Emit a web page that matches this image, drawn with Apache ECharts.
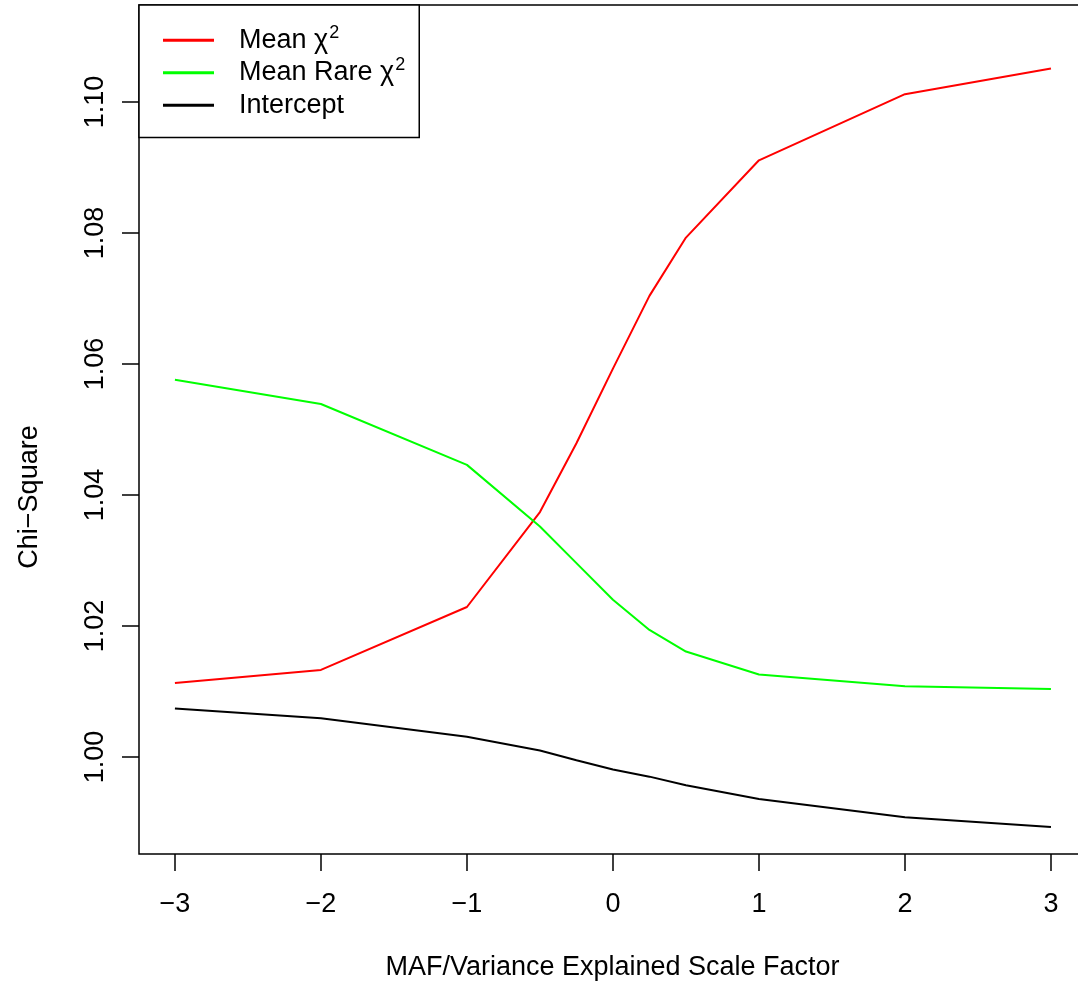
<!DOCTYPE html>
<html>
<head>
<meta charset="utf-8">
<script src="https://cdn.jsdelivr.net/npm/echarts@6/dist/echarts.min.js"></script>
<style>
html,body{margin:0;padding:0;background:#fff;overflow:hidden;}
#chart{width:1078px;height:986px;}
</style>
</head>
<body>
<div id="chart"></div>
<script>
const xValues = [-3, -2, -1, -0.5, -0.25, 0, 0.25, 0.5, 1, 2, 3];
const meanChi = [1.0113, 1.0133, 1.0229, 1.0374, 1.0479, 1.0593, 1.0704, 1.0793, 1.0911, 1.1012, 1.1051];
const meanRareChi = [1.0576, 1.0539, 1.0446, 1.0352, 1.0296, 1.0240, 1.0194, 1.0161, 1.0126, 1.0108, 1.0104];
const intercept = [1.0074, 1.0059, 1.0031, 1.0010, 0.9995, 0.9981, 0.9970, 0.9957, 0.9936, 0.9908, 0.9893];
const seriesNames = ['Mean \u03c72', 'Mean Rare \u03c72', 'Intercept'];
const xTicks = [-3, -2, -1, 0, 1, 2, 3];
const yTicks = [1.00, 1.02, 1.04, 1.06, 1.08, 1.10];
const xTitle = 'MAF/Variance Explained Scale Factor';
const yTitle = 'Chi\u2212Square';

const FONT = "'Liberation Sans', Arial, Helvetica, sans-serif";
const FS = 27;
const colors = ['#ff0000', '#00ff00', '#000000'];
const allSeries = [meanChi, meanRareChi, intercept];

const chart = echarts.init(document.getElementById('chart'), null, {renderer: 'canvas'});
const option = {
  animation: false,
  backgroundColor: '#ffffff',
  textStyle: {fontFamily: FONT, color: '#000'},
  grid: {
    left: 139, width: 947, top: 5, height: 849,
    outerBoundsMode: 'none',
    show: true, borderColor: '#000', borderWidth: 1.5, containLabel: false
  },
  legend: {
    show: true,
    left: 139, top: 5,
    orient: 'vertical',
    backgroundColor: '#fff',
    borderColor: '#000', borderWidth: 1.5, borderRadius: 0,
    padding: [19, 14, 16, 24],
    itemWidth: 51, itemHeight: 3, itemGap: 0,
    icon: 'rect',
    textStyle: {
      fontFamily: FONT, fontSize: FS, color: '#000',
      lineHeight: 32.5,
      padding: [0, 0, 0, 20],
      rich: {
        chi: {fontFamily: FONT, fontSize: FS, color: '#000', lineHeight: 32.5},
        sup: {fontFamily: FONT, fontSize: 18, color: '#000', lineHeight: 18, verticalAlign: 'top', padding: [0, 0, 0, 1]}
      }
    },
    formatter: function (name) {
      return name.replace('\u03c72', '{chi|\u03c7}{sup|2}');
    },
    data: seriesNames
  },
  xAxis: {
    type: 'value',
    min: -3.246, max: 3.240,
    name: xTitle,
    nameLocation: 'middle',
    nameGap: 100,
    nameTextStyle: {fontFamily: FONT, fontSize: FS, color: '#000'},
    axisLine: {show: false, onZero: false},
    splitLine: {show: false},
    axisTick: {show: true, inside: false, length: 17, customValues: xTicks, lineStyle: {color: '#000', width: 1.5}},
    axisLabel: {
      show: true, margin: 37, customValues: xTicks,
      fontFamily: FONT, fontSize: FS, color: '#000',
      formatter: function (v) { return v < 0 ? '\u2212' + Math.abs(v) : String(v); }
    }
  },
  yAxis: {
    type: 'value',
    min: 0.98519, max: 1.11481,
    axisLine: {show: false, onZero: false},
    splitLine: {show: false},
    axisTick: {show: true, inside: false, length: 17, customValues: yTicks, lineStyle: {color: '#000', width: 1.5}},
    axisLabel: {
      show: true, margin: 30, rotate: 90, customValues: yTicks,
      fontFamily: FONT, fontSize: FS, color: '#000',
      formatter: function (v) { return v.toFixed(2); }
    }
  },
  graphic: [{
    type: 'text',
    x: 30, y: 497,
    rotation: Math.PI / 2,
    style: {text: yTitle, fontFamily: FONT, fontSize: FS, fill: '#000', align: 'center', verticalAlign: 'middle'}
  }],
  series: allSeries.map(function (vals, i) {
    return {
      name: seriesNames[i],
      type: 'line',
      data: xValues.map(function (x, j) { return [x, vals[j]]; }),
      symbol: 'none',
      showSymbol: false,
      lineStyle: {color: colors[i], width: 2},
      itemStyle: {color: colors[i]},
      z: 2
    };
  })
};
chart.setOption(option);
</script>
</body>
</html>
